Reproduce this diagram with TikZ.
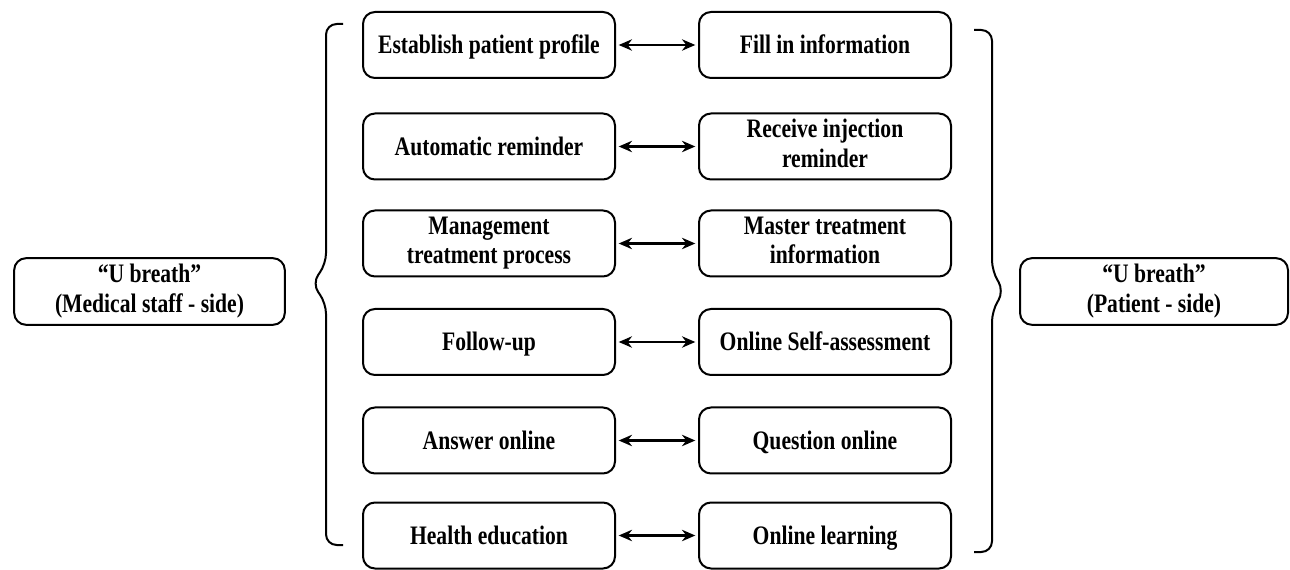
\documentclass[tikz,border=0pt]{standalone}
\usepackage{fontspec}
\setmainfont{Liberation Serif}[FakeStretch=0.81]
\usetikzlibrary{arrows.meta}
\tikzset{
  box/.style={draw, line width=1.5pt, rounded corners=9pt, minimum width=189pt,
    minimum height=49.5pt, align=center, inner sep=2pt,
    font=\fontsize{20pt}{22pt}\selectfont\bfseries,
    execute at begin node={\rule{0pt}{18pt}},
    execute at end node={\rule[-4.8pt]{0pt}{4.8pt}}},
  sidebox/.style={box, minimum width=202pt, minimum height=50pt},
  link/.style={line width=1.6pt, {Stealth[length=10pt,width=8.5pt]}-{Stealth[length=10pt,width=8.5pt]}, shorten <=2pt, shorten >=2pt},
  brace/.style={line width=1.5pt, rounded corners=8pt}
}
\begin{document}
\begin{tikzpicture}[x=0.75pt,y=-0.75pt]
\useasboundingbox (0,0) rectangle (1290,570);
% left column
\node[box] (l1) at (489,45) {Establish patient profile};
\node[box] (l2) at (489,146.5) {Automatic reminder};
\node[box] (l3) at (489,243.5) {Management\\treatment process};
\node[box] (l4) at (489,342) {Follow-up};
\node[box] (l5) at (489,440.5) {Answer online};
\node[box] (l6) at (489,535.5) {Health education};
% right column
\node[box] (r1) at (825,45) {Fill in information};
\node[box] (r2) at (825,146.5) {Receive injection\\reminder};
\node[box] (r3) at (825,243.5) {Master treatment\\information};
\node[box] (r4) at (825,342) {Online Self-assessment};
\node[box] (r5) at (825,440.5) {Question online};
\node[box] (r6) at (825,535.5) {Online learning};
% side boxes
\node[sidebox, minimum width=203pt] (ls) at (149.5,291.5) {“U breath”\\(Medical staff - side)};
\node[sidebox, minimum width=201pt] (rs) at (1154,291.5) {“U breath”\\(Patient - side)};
% links
\foreach \i in {1,...,6}{
  \draw[link] (l\i.east) -- (r\i.west);
}
% left brace
\draw[brace] (343,24) -- (326,24) -- (326,264) -- (312,283.5) -- (326,303) -- (326,545) -- (343,545);
% right brace
\draw[brace] (974,30) -- (992,30) -- (992,271) -- (1004,291) -- (992,311) -- (992,552) -- (974,552);
\end{tikzpicture}
\end{document}
